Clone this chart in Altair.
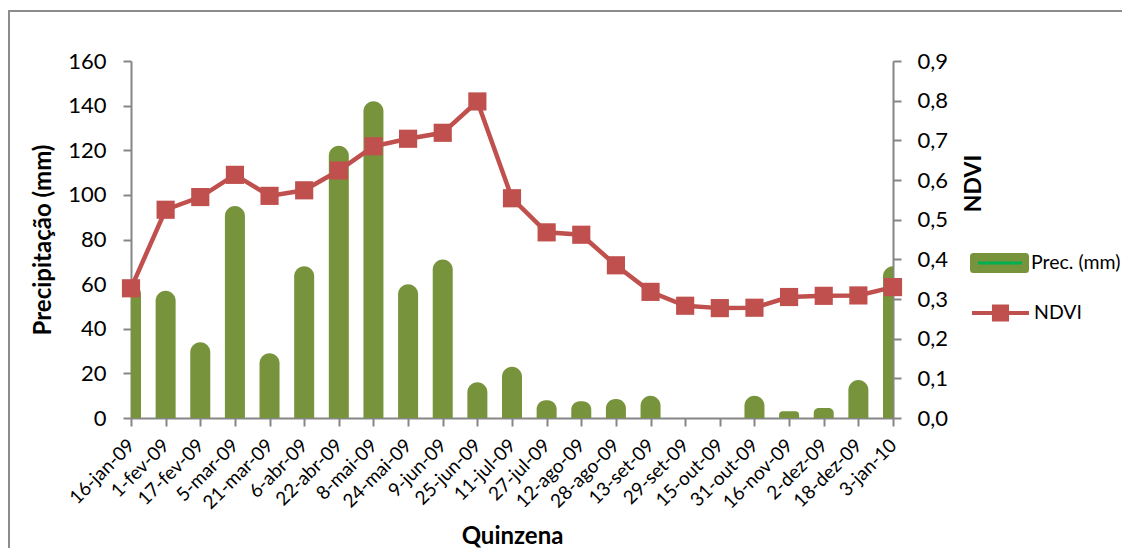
import altair as alt
import pandas as pd

# ---- data ----
dates = ["16-jan-09", "1-fev-09", "17-fev-09", "5-mar-09", "21-mar-09", "6-abr-09",
         "22-abr-09", "8-mai-09", "24-mai-09", "9-jun-09", "25-jun-09", "11-jul-09",
         "27-jul-09", "12-ago-09", "28-ago-09", "13-set-09", "29-set-09", "15-out-09",
         "31-out-09", "16-nov-09", "2-dez-09", "18-dez-09", "3-jan-10"]
prec = [60, 57, 34, 95, 29, 68, 122, 142, 60, 71, 16, 23, 8, 7.5, 8.5, 10, 0, 0,
        10, 3, 4.5, 17, 68]
ndvi = [0.327, 0.525, 0.557, 0.613, 0.560, 0.574, 0.624, 0.685, 0.704, 0.719, 0.798,
        0.554, 0.468, 0.462, 0.385, 0.318, 0.283, 0.277, 0.278, 0.305, 0.308, 0.309, 0.330]
prec_ticks = [0, 20, 40, 60, 80, 100, 120, 140, 160]
ndvi_ticks = [0.0, 0.1, 0.2, 0.3, 0.4, 0.5, 0.6, 0.7, 0.8, 0.9]
prec_name = "Prec. (mm)"
ndvi_name = "NDVI"
swatch_name = "prec-line"

GREEN = "#77933C"
BRIGHT = "#00B050"
RED = "#C0504D"
AXIS = "#868686"
FONT = "Lato"

df = pd.DataFrame({"date": dates, "prec": prec, "ndvi": ndvi,
                   "s1": prec_name, "s2": ndvi_name, "s3": swatch_name})

W, H = 762, 357

x = alt.X("date:N", sort=dates, scale=alt.Scale(type="point", padding=0),
          axis=alt.Axis(title="Quinzena", labelAngle=315, labelAlign="right",
                        labelBaseline="middle", labelFontSize=19, labelPadding=16,
                        tickSize=8, tickWidth=2, domainWidth=2,
                        titleFontSize=24, titleFontWeight="bold",
                        titleX=W / 2, titleY=125, titleBaseline="alphabetic"))

rect_path = ("M-0.88,-0.34H0.88Q1,-0.34 1,-0.22V0.22Q1,0.34 0.88,0.34"
             "H-0.88Q-1,0.34 -1,0.22V-0.22Q-1,-0.34 -0.88,-0.34Z")
thin_path = "M-1,-0.07H1V0.07H-1Z"
ndvi_path = "M-1,0H1M-0.23,-0.23H0.23V0.23H-0.23Z"

# chart-area frame (decoration, like the spreadsheet's chart border)
frame = alt.Chart(pd.DataFrame({"k": [0]})).mark_rect(
    fill="transparent", stroke="#8C8C8C", strokeWidth=2
).encode(x=alt.value(-122), x2=alt.value(1200), y=alt.value(-50), y2=alt.value(700))

prec_axis = alt.Axis(title="Precipitação (mm)", values=prec_ticks, grid=False,
                     tickSize=8, tickWidth=2, domainWidth=2, labelPadding=17,
                     labelFontSize=22, titleFontSize=24, titleFontWeight="bold",
                     titleAngle=270, titleX=-88, titleY=H / 2,
                     titleBaseline="middle", titleAlign="center")
prec_scale = alt.Scale(domain=[0, 160], nice=False)

bars = alt.Chart(df).mark_bar(size=20, clip=True, cornerRadiusTopLeft=10,
                              cornerRadiusTopRight=10).encode(
    x=x, y=alt.Y("prec:Q", scale=prec_scale, axis=prec_axis, stack=None),
    color=alt.Color("s1:N", scale=alt.Scale(domain=[prec_name], range=[GREEN]),
                    legend=alt.Legend(title=None, orient="none", legendX=839, legendY=172.5,
                                      symbolType=rect_path, symbolSize=3481,
                                      symbolStrokeWidth=0, labelFontSize=19.5,
                                      labelFont=FONT, labelOffset=2, labelColor="black"))
)

dummy = alt.Chart(df).mark_point(filled=True, size=0, opacity=1, shape=thin_path).encode(
    x=x, y=alt.Y("prec:Q", scale=prec_scale, axis=prec_axis),
    fill=alt.Fill("s3:N", scale=alt.Scale(domain=[swatch_name], range=[BRIGHT]),
                  legend=alt.Legend(title=None, orient="none", legendX=847, legendY=180,
                                    symbolType=thin_path, symbolSize=1936,
                                    symbolStrokeWidth=0, labelExpr="''"))
)

ndvi_axis = alt.Axis(title="NDVI", orient="right", values=ndvi_ticks, grid=False,
                     labelExpr="replace(format(datum.value, '.1f'), '.', ',')",
                     tickSize=8, tickWidth=2, domainWidth=2, labelPadding=16,
                     labelFontSize=22, titleFontSize=23, titleFontWeight="bold",
                     titleAngle=270, titleX=80, titleY=122, labelOverlap=False,
                     titleBaseline="middle", titleAlign="center")
ndvi_scale = alt.Scale(domain=[0, 0.9], nice=False)

line = alt.Chart(df).mark_line(strokeWidth=4.5).encode(
    x=x, y=alt.Y("ndvi:Q", scale=ndvi_scale, axis=ndvi_axis),
    stroke=alt.Stroke("s2:N", scale=alt.Scale(domain=[ndvi_name], range=[RED]),
                      legend=alt.Legend(title=None, orient="none", legendX=839, legendY=221.5,
                                        symbolType=ndvi_path, symbolSize=3249,
                                        symbolFillColor=RED, symbolStrokeColor=RED,
                                        symbolStrokeWidth=4, labelFontSize=19.5,
                                        labelFont=FONT, labelOffset=3, labelColor="black"))
)

points = alt.Chart(df).mark_point(shape="square", filled=True, size=330, color=RED,
                                  opacity=1).encode(
    x=x, y=alt.Y("ndvi:Q", scale=ndvi_scale, axis=ndvi_axis))

chart = alt.layer(
    frame,
    alt.layer(bars, dummy),
    alt.layer(line, points),
).resolve_scale(y="independent").properties(
    width=W, height=H,
    autosize=alt.AutoSizeParams(type="none"),
    padding={"left": 123, "top": 53, "right": 229, "bottom": 130},
).configure_view(stroke=None).configure_axis(
    labelFont=FONT, titleFont=FONT, domainColor=AXIS, tickColor=AXIS,
    labelColor="black", titleColor="black"
).configure_legend(labelFont=FONT, padding=0)

chart.save("out.html", embed_options={"renderer": "svg", "actions": False})
